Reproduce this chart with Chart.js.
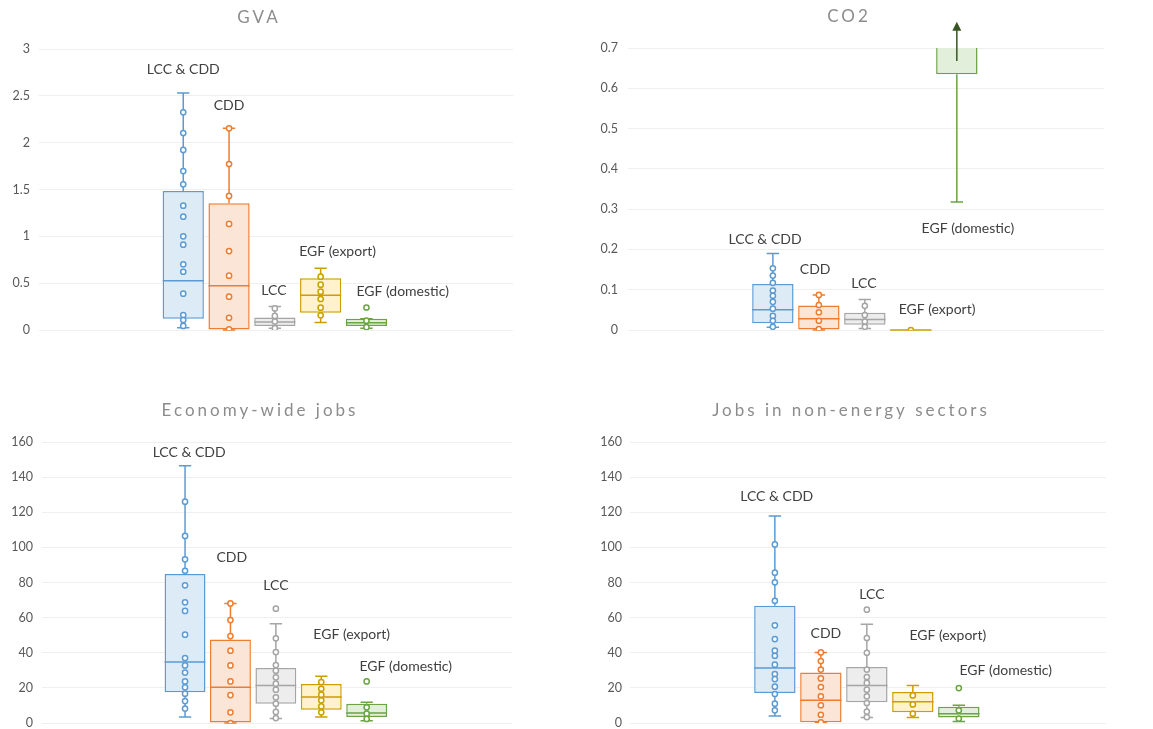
<!DOCTYPE html>
<html>
<head>
<meta charset="utf-8">
<script src="https://cdn.jsdelivr.net/npm/chart.js@4.4.0/dist/chart.umd.min.js"></script>
<style>
  html, body { margin: 0; padding: 0; background: #fff; width: 1153px; height: 729px; overflow: hidden; }
  .panel { position: absolute; }
</style>
</head>
<body>
<div class="panel" style="left:0;top:0;width:576px;height:360px"><canvas id="gva"></canvas></div>
<div class="panel" style="left:598px;top:0;width:555px;height:360px"><canvas id="co2"></canvas></div>
<div class="panel" style="left:0;top:380px;width:576px;height:360px"><canvas id="jobs"></canvas></div>
<div class="panel" style="left:598px;top:380px;width:555px;height:360px"><canvas id="nonEnergy"></canvas></div>
<script>
// series (one box each)
const series = ["LCC & CDD", "CDD", "LCC", "EGF (export)", "EGF (domestic)"];

// GVA
const gvaTicks = [0, 0.5, 1, 1.5, 2, 2.5, 3];
const gvaLow = [0.025, 0, 0.02, 0.08, 0.02];
const gvaQ1 = [0.12, 0, 0.043, 0.185, 0.043];
const gvaMedian = [0.527, 0.473, 0.085, 0.37, 0.078];
const gvaQ3 = [1.485, 1.352, 0.133, 0.552, 0.121];
const gvaHigh = [2.53, 2.153, 0.25, 0.658, 0.121];
const gvaPoints = [
    [2.324, 2.103, 1.922, 1.697, 1.555, 1.327, 1.21, 1.0, 0.911, 0.701, 0.622, 0.388, 0.16, 0.107, 0.043],
    [2.153, 1.772, 1.431, 1.132, 0.843, 0.58, 0.356, 0.131, 0.007],
    [0.23, 0.15, 0.09, 0.02],
    [0.569, 0.484, 0.409, 0.331, 0.238, 0.157],
    [0.24, 0.1, 0.03]
];
const gvaLabelX = [0, 1, 1.98, 3.37, 4.79];
const gvaLabelY = [2.78, 2.4, 0.42, 0.836, 0.41];

// CO2
const co2Ticks = [0, 0.1, 0.2, 0.3, 0.4, 0.5, 0.6, 0.7];
const co2Low = [0.007, 0, 0.004, 0, 0.318];
const co2Q1 = [0.017, 0, 0.013, 0, 0.635];
const co2Median = [0.05, 0.028, 0.026, 0, null];
const co2Q3 = [0.114, 0.061, 0.043, 0, 0.75];
const co2High = [0.19, 0.087, 0.076, 0, null];
const co2Points = [
    [0.153, 0.135, 0.117, 0.098, 0.085, 0.07, 0.053, 0.035, 0.023, 0.008],
    [0.087, 0.062, 0.044, 0.023, 0.002],
    [0.06, 0.037, 0.021, 0.008],
    [0],
    []
];
const co2Arrow = [0.668, 0.765]; // off-scale marker on EGF (domestic)
const co2LabelX = [-0.17, 0.92, 1.98, 3.57, 4.24];
const co2LabelY = [0.224, 0.149, 0.116, 0.05, 0.253];

// Economy-wide jobs
const jobsTicks = [0, 20, 40, 60, 80, 100, 120, 140, 160];
const jobsLow = [3.4, 0, 2.5, 3.4, 1.3];
const jobsQ1 = [17.5, 0, 11, 7.6, 3.4];
const jobsMedian = [34.7, 20.3, 21.4, 14.8, 5.7];
const jobsQ3 = [84.8, 47.6, 31.3, 22.2, 11];
const jobsHigh = [146.5, 68.1, 56.5, 26.6, 11.8];
const jobsPoints = [
    [126, 106.5, 93.2, 86.7, 78.4, 68.7, 63.8, 50.3, 37, 32.8, 28.7, 23.7, 20.3, 16.7, 12.5, 8.2],
    [68.1, 58.6, 49.5, 41.2, 32.8, 23.7, 15.9, 6.1, 0],
    [65.1, 48.2, 40.4, 33, 29.8, 26, 22.4, 19, 14.6, 11, 6.3, 2.8],
    [23.3, 19.5, 16.1, 12.9, 9.5, 6.1],
    [23.7, 8.9, 5.3, 2.3]
];
const jobsLabelX = [0.09, 1.03, 2.0, 3.67, 4.86];
const jobsLabelY = [154, 94.5, 78.4, 50.3, 32.2];

// Jobs in non-energy sectors
const nonTicks = [0, 20, 40, 60, 80, 100, 120, 140, 160];
const nonLow = [4.0, 0.4, 3.2, 3.2, 0.9];
const nonQ1 = [17.1, 0.4, 11.8, 6.1, 3.2];
const nonMedian = [31.3, 12.9, 21.3, 12.1, 5.3];
const nonQ3 = [66.8, 28.8, 31.9, 17.6, 9.3];
const nonHigh = [117.8, 40.2, 56.2, 21.3, 10.1];
const nonPoints = [
    [101.7, 85.6, 80.1, 69.6, 55.6, 47.8, 41.2, 38.3, 33.2, 27.9, 25, 20.7, 16.5, 11, 7.2],
    [40.2, 35.3, 30.4, 25.4, 20.5, 15.2, 10.1, 4.7, 0.4],
    [64.5, 48.4, 40, 30.4, 26.2, 22.8, 19, 15.2, 11.4, 6.5, 3.4],
    [15.7, 10.6, 5.3],
    [19.9, 7.2, 2.5]
];
const nonLabelX = [0.04, 1.11, 2.11, 3.76, 5.02];
const nonLabelY = [128.7, 50.9, 73.1, 49.9, 30];

const lineColors = ["#5B9BD5", "#ED7D31", "#A5A5A5", "#CC9E00", "#6AA444"];
const fillColors = ["#DDEBF7", "#FBE5D6", "#EDEDED", "#FFF2CC", "#E2EFDA"];
const FONT = "Lato, 'Open Sans', sans-serif";

// whiskers, medians, labels, title
const boxExtras = {
    id: "boxExtras",
    afterDatasetDraw(chart, args, opts) {
        if (args.index !== 0) return;
        const ctx = chart.ctx;
        const y = chart.scales.y;
        ctx.save();
        ctx.lineWidth = 1.5;
        args.meta.data.forEach((bar, i) => {
            const cx = bar.x, half = bar.width / 2, cap = bar.width * 0.15;
            ctx.strokeStyle = lineColors[i];
            ctx.beginPath();
            if (opts.high[i] != null) {
                ctx.moveTo(cx, y.getPixelForValue(opts.q3[i]));
                ctx.lineTo(cx, y.getPixelForValue(opts.high[i]));
                ctx.moveTo(cx - cap, y.getPixelForValue(opts.high[i]));
                ctx.lineTo(cx + cap, y.getPixelForValue(opts.high[i]));
            }
            if (opts.low[i] != null) {
                ctx.moveTo(cx, y.getPixelForValue(opts.q1[i]));
                ctx.lineTo(cx, y.getPixelForValue(opts.low[i]));
                ctx.moveTo(cx - cap, y.getPixelForValue(opts.low[i]));
                ctx.lineTo(cx + cap, y.getPixelForValue(opts.low[i]));
            }
            if (opts.median[i] != null) {
                ctx.moveTo(cx - half, y.getPixelForValue(opts.median[i]));
                ctx.lineTo(cx + half, y.getPixelForValue(opts.median[i]));
            }
            ctx.stroke();
        });
        if (opts.arrow) {
            const bar = args.meta.data[4];
            const y0 = y.getPixelForValue(opts.arrow[0]);
            const y1 = y.getPixelForValue(opts.arrow[1]);
            ctx.strokeStyle = "#375623";
            ctx.fillStyle = "#375623";
            ctx.beginPath();
            ctx.moveTo(bar.x, y0);
            ctx.lineTo(bar.x, y1 + 8);
            ctx.stroke();
            ctx.beginPath();
            ctx.moveTo(bar.x, y1);
            ctx.lineTo(bar.x - 4.5, y1 + 9);
            ctx.lineTo(bar.x + 4.5, y1 + 9);
            ctx.closePath();
            ctx.fill();
        }
        ctx.restore();
    },
    afterDraw(chart, args, opts) {
        const ctx = chart.ctx;
        const area = chart.chartArea;
        const x = chart.scales.x, y = chart.scales.y;
        ctx.save();
        ctx.fillStyle = "#404040";
        ctx.font = "14px " + FONT;
        ctx.textAlign = "center";
        ctx.textBaseline = "middle";
        series.forEach((name, i) => {
            ctx.fillText(name, x.getPixelForValue(opts.labelX[i]), y.getPixelForValue(opts.labelY[i]));
        });
        ctx.fillStyle = "#8C8C8C";
        ctx.font = "17px " + FONT;
        ctx.letterSpacing = "3px";
        ctx.fillText(opts.title, (area.left + area.right) / 2 - 17, area.top - 31);
        ctx.restore();
    }
};

function makePanel(id, title, ticks, low, q1, median, q3, high, points, labelX, labelY, yWidth, tickPad, padding, arrow) {
    const pts = [], ptColors = [];
    points.forEach((list, i) => list.forEach(v => {
        pts.push({ x: i, y: v });
        ptColors.push(lineColors[i]);
    }));
    new Chart(document.getElementById(id), {
        type: "bar",
        data: {
            datasets: [{
                type: "bar",
                data: series.map((s, i) => ({ x: i, y: [q1[i], q3[i]] })),
                backgroundColor: fillColors,
                borderColor: lineColors,
                borderWidth: 1.5,
                borderSkipped: false,
                barPercentage: 0.9,
                categoryPercentage: 1,
                order: 1
            }, {
                type: "scatter",
                data: pts,
                pointRadius: 2.6,
                pointBorderWidth: 1.5,
                pointBackgroundColor: "#ffffff",
                pointBorderColor: ptColors,
                order: 0
            }]
        },
        options: {
            responsive: true,
            maintainAspectRatio: false,
            animation: false,
            layout: { padding: padding },
            scales: {
                x: { type: "linear", min: -3.15, max: 7.2, offset: false, display: false },
                y: {
                    min: ticks[0],
                    max: ticks[ticks.length - 1],
                    afterFit: s => { s.width = yWidth; },
                    border: { display: false },
                    grid: { color: "#EFEFEF", lineWidth: 1, drawTicks: false },
                    ticks: {
                        stepSize: ticks[1] - ticks[0],
                        color: "#595959",
                        padding: tickPad,
                        font: { family: FONT, size: 12.5 },
                        callback: v => String(Math.round(v * 10) / 10)
                    }
                }
            },
            plugins: {
                legend: { display: false },
                tooltip: { enabled: false },
                boxExtras: { title, low, q1, median, q3, high, labelX, labelY, arrow }
            }
        },
        plugins: [boxExtras]
    });
}

makePanel("gva", "GVA", gvaTicks, gvaLow, gvaQ1, gvaMedian, gvaQ3, gvaHigh, gvaPoints, gvaLabelX, gvaLabelY,
    39, 9, { top: 49, right: 63, bottom: 30, left: 0 }, null);
makePanel("co2", "CO2", co2Ticks, co2Low, co2Q1, co2Median, co2Q3, co2High, co2Points, co2LabelX, co2LabelY,
    30, 10, { top: 48, right: 49, bottom: 30, left: 0 }, co2Arrow);
makePanel("jobs", "Economy-wide jobs", jobsTicks, jobsLow, jobsQ1, jobsMedian, jobsQ3, jobsHigh, jobsPoints, jobsLabelX, jobsLabelY,
    42, 9, { top: 62, right: 64, bottom: 17, left: 0 }, null);
makePanel("nonEnergy", "Jobs in non-energy sectors", nonTicks, nonLow, nonQ1, nonMedian, nonQ3, nonHigh, nonPoints, nonLabelX, nonLabelY,
    32, 8, { top: 62, right: 47, bottom: 17, left: 0 }, null);
</script>
</body>
</html>
